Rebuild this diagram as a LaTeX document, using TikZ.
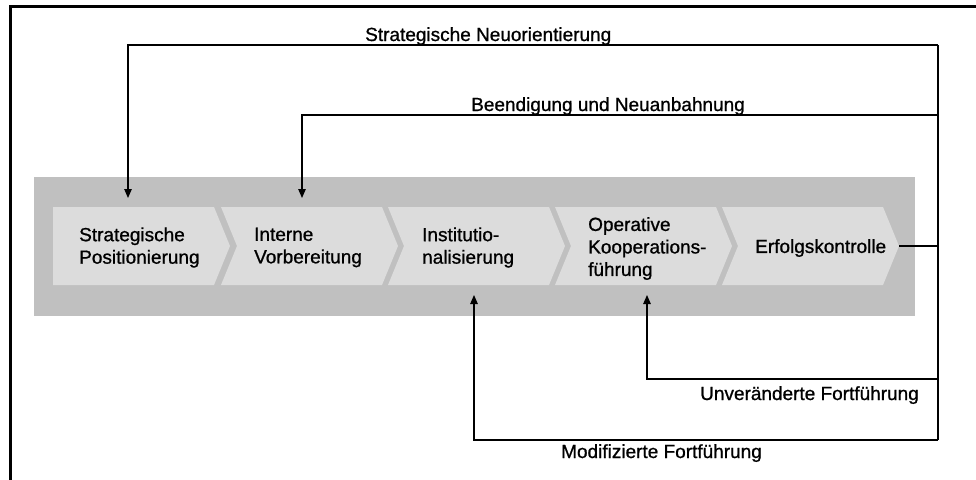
\documentclass[tikz,border=0pt]{standalone}
\usepackage{fontspec}
\setmainfont[AutoFakeBold=0.9]{Liberation Sans}
\usetikzlibrary{arrows.meta}
\definecolor{bandgray}{HTML}{C0C0C0}
\definecolor{chevgray}{HTML}{DCDCDC}
\tikzset{
  chevtext/.style={anchor=west, inner sep=0pt, align=left, font=\fontsize{19}{22.5}\selectfont\bfseries},
  lbl/.style={anchor=base west, inner sep=0pt, font=\fontsize{19}{22.5}\selectfont\bfseries},
  conn/.style={line width=1.1pt, draw=black},
  arr/.style={conn, -{Triangle[width=7.5pt,length=9pt]}},
  frame/.style={line width=3pt, draw=black}
}
\newcommand{\chevfirst}[1]{\fill[chevgray] (#1,207) -- ++(161,0) -- ++(16,39) -- ++(-16,39) -- ++(-161,0) -- cycle;}
\newcommand{\chevnotch}[1]{\fill[chevgray] (#1,207) -- ++(161,0) -- ++(16,39) -- ++(-16,39) -- ++(-161,0) -- ++(16,-39) -- cycle;}
\begin{document}
\begin{tikzpicture}[x=1pt,y=-1pt]
\useasboundingbox (0,0) rectangle (976,479);
% frame
\draw[frame] (10.5,480) -- (10.5,6.8) -- (977,6.8);
% band
\fill[bandgray] (34,177) rectangle (915,316);
% chevrons
\chevfirst{53}
\chevnotch{221}
\chevnotch{388}
\chevnotch{555}
\chevnotch{722}
% texts
\node[chevtext] (p1) at (79,247.5) {Strategische\\Positionierung};
\node[chevtext] (p2) at (254,247.5) {Interne\\Vorbereitung};
\node[chevtext] (p3) at (422,247.5) {Institutio-\\nalisierung};
\node[chevtext] (p4) at (588,248.5) {Operative\\Kooperations-\\führung};
\node[chevtext] (p5) at (755,248) {Erfolgskontrolle};
% coordinates
\coordinate (tip5) at (899,246);
\coordinate (in1) at (128,198);
\coordinate (in2) at (302,198);
\coordinate (in3) at (474,295);
\coordinate (in4) at (647,295);
\coordinate (r1) at (938,45);
\coordinate (r2) at (938,115);
\coordinate (r5) at (938,246);
\coordinate (r4) at (938,379);
\coordinate (r3) at (938,440);
% connectors
\draw[conn] (r1) -- (r3);
\draw[conn] (tip5) -- (r5);
\draw[arr] (r1) -| (in1);
\draw[arr] (r2) -| (in2);
\draw[arr] (r4) -| (in4);
\draw[arr] (r3) -| (in3);
% labels
\node[lbl] (l1) at (365,41) {Strategische Neuorientierung};
\node[lbl] (l2) at (471,111) {Beendigung und Neuanbahnung};
\node[lbl] (l3) at (700,400) {Unveränderte Fortführung};
\node[lbl] (l4) at (561,458) {Modifizierte Fortführung};
\end{tikzpicture}
\end{document}
